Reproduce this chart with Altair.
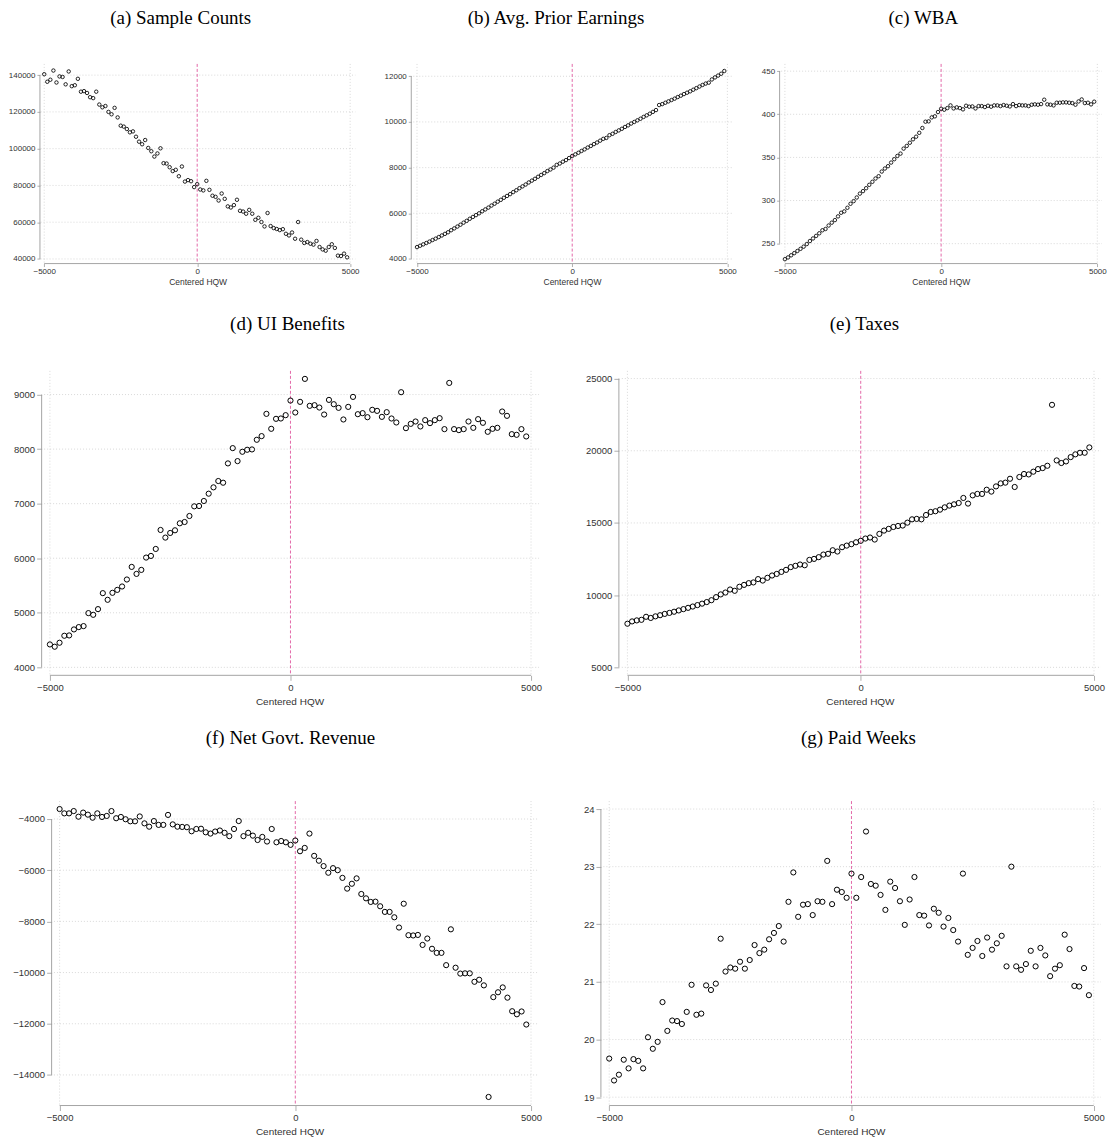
import altair as alt
import pandas as pd

# ---------------- data ----------------
HQW_BINS = list(range(-5000, 5000, 100))  # centered HQW bins

SAMPLE_COUNTS = [
    140500, 136400, 137500, 142500, 136000, 139300, 139000, 135000, 142000, 134000,
    134500, 138000, 131000, 131300, 130300, 128000, 127500, 131000, 124000, 122500,
    123200, 120000, 118700, 122200, 117000, 112500, 112000, 110700, 108900, 109400,
    106500, 103800, 102400, 104700, 100400, 98600, 95700, 97400, 100200, 92100,
    91900, 89900, 87800, 88500, 85000, 90300, 82100, 82900, 82300, 79100,
    80700, 77800, 77300, 82500, 77600, 74400, 73800, 71800, 75600, 72700,
    68600, 68000, 69300, 72200, 66200, 65800, 64600, 66700, 64600, 61300,
    62400, 60100, 57700, 65000, 57900, 56800, 56300, 55700, 56200, 53700,
    52800, 54400, 51000, 60100, 50500, 48700, 49200, 48300, 47800, 49800,
    46500, 45200, 44500, 46500, 48000, 46000, 41800, 41600, 42900, 40900,
]

AVG_PRIOR_EARNINGS = [
    4520, 4580, 4640, 4700, 4760, 4830, 4890, 4960, 5030, 5100,
    5170, 5260, 5340, 5420, 5500, 5590, 5670, 5760, 5840, 5920,
    6000, 6090, 6170, 6250, 6340, 6420, 6510, 6590, 6680, 6760,
    6840, 6930, 7010, 7100, 7180, 7260, 7350, 7430, 7510, 7600,
    7680, 7760, 7850, 7920, 8000, 8120, 8180, 8260, 8330, 8420,
    8510, 8580, 8650, 8730, 8800, 8880, 8950, 9030, 9100, 9180,
    9260, 9300, 9420, 9480, 9560, 9630, 9700, 9780, 9850, 9930,
    10000, 10070, 10140, 10220, 10290, 10360, 10440, 10520, 10740, 10780,
    10840, 10900, 10960, 11020, 11090, 11150, 11220, 11280, 11340, 11410,
    11480, 11550, 11620, 11680, 11720, 11860, 11950, 12030, 12110, 12230,
]

WBA = [
    232, 234, 236.5, 239, 241.5, 244, 246.5, 249.5, 253, 256,
    259, 262, 265.5, 267, 271, 274.3, 277.3, 281.6, 285.8, 287.4,
    291.6, 296.2, 299.3, 303.5, 308, 310.9, 314.3, 318.2, 321.7, 325.5,
    328.2, 333.6, 337.1, 339.8, 344, 347.9, 351.7, 354.4, 360.2, 363.3,
    367, 371, 374, 378.5, 384.1, 391.4, 391.8, 396.4, 397.6, 402.6,
    406.4, 405.3, 407.2, 410.3, 406.8, 408, 407.2, 405.7, 409.9, 408.8,
    409.1, 406.8, 409.5, 409.5, 408.4, 409.9, 408.8, 410.3, 410.3, 409.5,
    410.7, 409.9, 409.1, 411.8, 409.5, 410.7, 410.3, 410.3, 409.5, 411.1,
    411.5, 411.1, 411.8, 416.9, 411.5, 411.1, 410.3, 413.4, 413.4, 413.8,
    413.8, 413.4, 413, 411.1, 414.9, 417.2, 413, 413.4, 411.5, 414.6,
]

UI_BENEFITS = [
    4420, 4378, 4451, 4579, 4585, 4695, 4738, 4756, 4994, 4963,
    5067, 5360, 5238, 5366, 5420, 5482, 5610, 5841, 5713, 5786,
    6012, 6042, 6170, 6518, 6378, 6463, 6512, 6640, 6664, 6774,
    6951, 6957, 7049, 7183, 7299, 7415, 7384, 7738, 8018, 7780,
    7951, 7988, 7994, 8171, 8238, 8646, 8372, 8555, 8561, 8622,
    8890, 8671, 8866, 9287, 8793, 8805, 8762, 8634, 8902, 8823,
    8756, 8543, 8774, 8957, 8640, 8659, 8585, 8720, 8701, 8591,
    8677, 8561, 8488, 9043, 8384, 8463, 8506, 8415, 8531, 8476,
    8531, 8567, 8366, 9213, 8366, 8348, 8366, 8506, 8390, 8549,
    8482, 8317, 8372, 8390, 8689, 8610, 8274, 8262, 8366, 8232,
]

TAXES = [
    8020, 8180, 8250, 8290, 8500, 8420, 8530, 8610, 8700, 8770,
    8850, 8940, 9030, 9120, 9210, 9310, 9410, 9520, 9650, 9860,
    10050, 10180, 10390, 10300, 10580, 10710, 10830, 10880, 11110, 11010,
    11200, 11360, 11470, 11610, 11750, 11940, 12030, 12120, 12070, 12440,
    12510, 12630, 12810, 12860, 13110, 13020, 13320, 13430, 13530, 13660,
    13760, 13920, 13990, 13850, 14240, 14470, 14590, 14720, 14790, 14820,
    15020, 15250, 15280, 15250, 15550, 15760, 15810, 15920, 16080, 16200,
    16290, 16380, 16730, 16340, 16910, 17010, 17010, 17300, 17170, 17530,
    17740, 17790, 18060, 17490, 18180, 18390, 18360, 18550, 18730, 18800,
    18960, 23180, 19330, 19150, 19260, 19560, 19750, 19860, 19860, 20230,
]

NET_GOVT_REVENUE = [
    -3611, -3780, -3780, -3690, -3910, -3750, -3830, -3950, -3780, -3920,
    -3880, -3690, -3970, -3920, -4010, -4090, -4090, -3900, -4170, -4300,
    -4080, -4230, -4230, -3840, -4210, -4300, -4310, -4320, -4480, -4390,
    -4380, -4520, -4570, -4490, -4450, -4540, -4670, -4390, -4080, -4670,
    -4540, -4650, -4820, -4700, -4880, -4390, -4910, -4860, -4910, -5010,
    -4840, -5260, -5130, -4570, -5440, -5630, -5840, -6100, -5920, -6000,
    -6300, -6720, -6530, -6320, -6930, -7100, -7240, -7230, -7410, -7630,
    -7630, -7840, -8240, -7310, -8540, -8550, -8530, -8920, -8670, -9070,
    -9230, -9230, -9710, -8310, -9810, -10040, -10030, -10030, -10360, -10280,
    -10500, -14860, -10960, -10770, -10580, -10980, -11510, -11630, -11520, -12030,
]

PAID_WEEKS = [
    19.67, 19.29, 19.39, 19.65, 19.50, 19.66, 19.63, 19.50, 20.04, 19.84,
    19.96, 20.65, 20.15, 20.33, 20.32, 20.27, 20.48, 20.95, 20.43, 20.45,
    20.94, 20.86, 20.97, 21.75, 21.18, 21.25, 21.23, 21.35, 21.23, 21.38,
    21.64, 21.50, 21.56, 21.74, 21.85, 21.97, 21.70, 22.39, 22.90, 22.13,
    22.34, 22.35, 22.16, 22.40, 22.39, 23.10, 22.35, 22.60, 22.56, 22.46,
    22.88, 22.46, 22.82, 23.61, 22.70, 22.67, 22.51, 22.25, 22.74, 22.63,
    22.40, 21.99, 22.43, 22.82, 22.16, 22.15, 21.98, 22.27, 22.20, 21.96,
    22.11, 21.90, 21.70, 22.88, 21.47, 21.59, 21.71, 21.45, 21.77, 21.56,
    21.67, 21.80, 21.27, 23.00, 21.27, 21.21, 21.31, 21.54, 21.27, 21.59,
    21.46, 21.10, 21.23, 21.29, 21.82, 21.57, 20.93, 20.92, 21.24, 20.77,
]

X_TICKS = [-5000, 0, 5000]
X_GRID = [-5000, 5000]

# ---------------- style ----------------
SANS = "Liberation Sans"
SERIF = "Liberation Serif"
GRID = "#cfcfcf"
AXC = "#9a9a9a"
LABC = "#333333"
PINK = "#e0589f"


def panel(vals, title, xdom, ydom, yticks, w, h, yext, yin, small, title_dy, title_cx):
    lab_fs = 8 if small else 9.5
    ttl_fs = 8.5 if small else 10
    tick = 3 if small else 5
    lpad = 1 if small else 2
    tpad = 2 if small else 5
    msize = 12 if small else 27
    mstroke = 0.85 if small else 1.0
    df = pd.DataFrame({"hqw": HQW_BINS, "v": vals})
    one = pd.DataFrame({"k": [0]})
    grid_df = pd.DataFrame({"g": yticks})
    vgrid_df = pd.DataFrame({"gx": X_GRID})

    xscale = alt.Scale(domain=xdom, nice=False, zero=False)
    yscale = alt.Scale(domain=ydom, nice=False, zero=False)

    xaxis = alt.Axis(values=X_TICKS, tickCount=len(X_TICKS), format="d", domain=False,
                     grid=False, tickColor=AXC, tickSize=tick, tickWidth=0.8,
                     labelFont=SANS, labelFontSize=lab_fs, labelColor=LABC,
                     labelPadding=lpad, labelFlush=False, labelOverlap=False,
                     title="Centered HQW", titleFont=SANS, titleFontSize=ttl_fs,
                     titleFontWeight="normal", titleColor=LABC, titlePadding=tpad)
    yaxis = alt.Axis(values=yticks, tickCount=len(yticks), format="d", domain=False,
                     grid=False, tickColor=AXC, tickSize=tick, tickWidth=0.8,
                     labelFont=SANS, labelFontSize=lab_fs, labelColor=LABC,
                     labelPadding=2, labelFlush=False, labelOverlap=False, title=None,
                     offset=-yin, minExtent=yext, maxExtent=yext)

    gl = max(xdom[0], -5120)
    hgrid = alt.Chart(grid_df).mark_rule(color=GRID, strokeDash=[1, 2], strokeWidth=0.8).encode(
        y=alt.Y("g:Q", scale=yscale), x=alt.datum(gl), x2=alt.datum(xdom[1])
    )
    vgrid = alt.Chart(vgrid_df).mark_rule(color=GRID, strokeDash=[1, 2], strokeWidth=0.8).encode(
        x=alt.X("gx:Q", scale=xscale)
    )
    pts = alt.Chart(df).mark_point(shape="circle", filled=False, stroke="black",
                                   strokeWidth=mstroke, size=msize, opacity=1).encode(
        x=alt.X("hqw:Q", scale=xscale, axis=xaxis),
        y=alt.Y("v:Q", scale=yscale, axis=yaxis),
    )
    cut = alt.Chart(one).mark_rule(color=PINK, strokeDash=[3, 2], strokeWidth=0.9).encode(
        x=alt.datum(0)
    )
    xline = alt.Chart(one).mark_rule(color=AXC, strokeWidth=0.9).encode(
        x=alt.datum(X_TICKS[0]), x2=alt.datum(X_TICKS[-1]), y=alt.value(h)
    )
    yline = alt.Chart(one).mark_rule(color=AXC, strokeWidth=0.9).encode(
        x=alt.value(yin), y=alt.datum(yticks[0]), y2=alt.datum(yticks[-1])
    )
    ttl = alt.Chart(one).mark_text(font=SERIF, fontSize=19, color="black",
                                   align="center", baseline="middle").encode(
        x=alt.value(title_cx), y=alt.value(-title_dy), text=alt.value(title)
    )
    return alt.layer(hgrid, vgrid, cut, pts, xline, yline, ttl).properties(width=w, height=h)


pa = panel(SAMPLE_COUNTS, "(a) Sample Counts", [-5140, 5170], [37500, 146100],
           [40000, 60000, 80000, 100000, 120000, 140000], 316, 200, 31, 0, True, 46, 141)
pb = panel(AVG_PRIOR_EARNINGS, "(b) Avg. Prior Earnings", [-5185, 5170], [3800, 12540],
           [4000, 6000, 8000, 10000, 12000], 322, 200, 38, 0, True, 46, 145)
pc = panel(WBA, "(c) WBA", [-5170, 5150], [226.9, 458.4], [250, 300, 350, 400, 450],
           323, 200, 29, 0, True, 46, 144)
pd_ = panel(UI_BENEFITS, "(d) UI Benefits", [-5207, 5166], [3854, 9434],
            [4000, 5000, 6000, 7000, 8000, 9000], 500, 305, 32.7, 1.7, False, 47, 248)
pe = panel(TAXES, "(e) Taxes", [-5183, 5150], [4447, 25532],
           [5000, 10000, 15000, 20000, 25000], 483, 305, 37, 0, False, 47, 246)
pf = panel(NET_GOVT_REVENUE, "(f) Net Govt. Revenue", [-5417, 5170], [-15195, -3300],
           [-14000, -12000, -10000, -8000, -6000, -4000], 500, 305, 42.7, 11.7, False, 63, 251)
pg = panel(PAID_WEEKS, "(g) Paid Weeks", [-5171, 5150], [18.855, 24.138],
           [19, 20, 21, 22, 23, 24], 501, 305, 19, 0, False, 63, 258)

row1 = alt.hconcat(pa, pb, pc, spacing=14)
row2 = alt.hconcat(pd_, pe, spacing=40)
row3 = alt.hconcat(pf, pg, spacing=40)

lower = alt.concat(row2, row3, columns=1, spacing=22, align="none")
chart = alt.concat(row1, lower, columns=1, spacing=28.5, align="none").properties(
    padding=0, background="white"
).configure_view(stroke=None)

chart.save("out.html", embed_options={"renderer": "svg", "actions": False})
